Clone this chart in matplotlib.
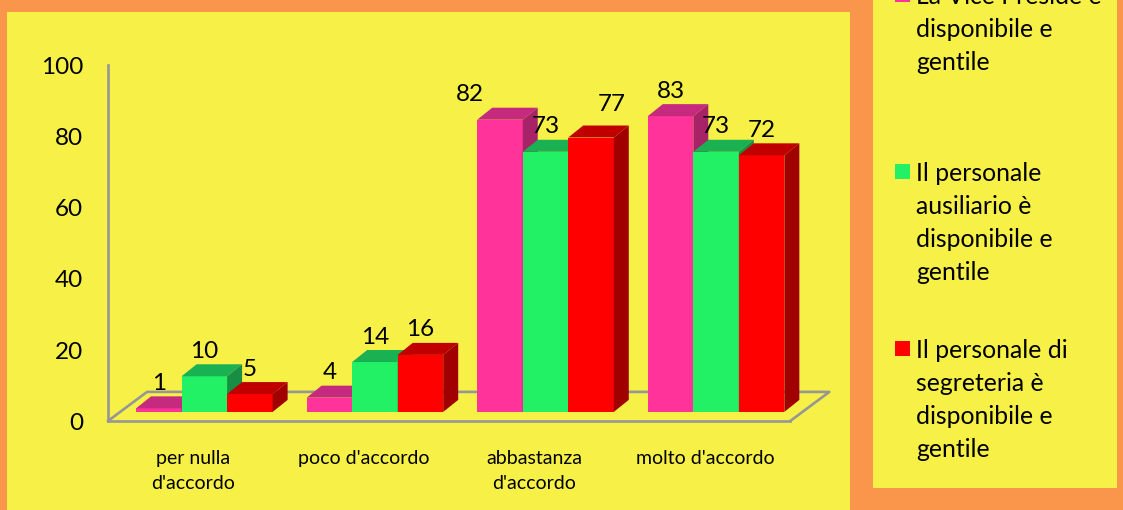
import matplotlib
matplotlib.use("Agg")
import matplotlib.pyplot as plt
from matplotlib.patches import Polygon, Rectangle
from matplotlib.transforms import offset_copy

categories = ["per nulla\nd'accordo", "poco d'accordo", "abbastanza\nd'accordo", "molto d'accordo"]
vice_preside = [1, 4, 82, 83]
ausiliario = [10, 14, 73, 73]
segreteria = [5, 16, 77, 72]
y_ticks = [0, 20, 40, 60, 80, 100]
legend_labels = [
    "La Vice Preside è\ndisponibile e\ngentile",
    "Il personale\nausiliario è\ndisponibile e\ngentile",
    "Il personale di\nsegreteria è\ndisponibile e\ngentile",
]

W, H = 1123, 510
ORANGE = "#FA964B"
YELLOW = "#F7F147"
GREY = "#969696"
# front, top, side
PINK = ("#FF3399", "#C62A7E", "#A82268")
GREEN = ("#22F065", "#1AB152", "#178E43")
RED = ("#FF0000", "#C00000", "#A00000")

plt.rcParams["font.family"] = ["Lato", "DejaVu Sans"]

# the +0.5 stops 5.1*100 being floored to 509
fig = plt.figure(figsize=((W + 0.5) / 100, (H + 0.5) / 100), dpi=100, facecolor=ORANGE)


def px_rect(x0, y0, x1, y1):
    # pixel box measured from the top left, as figure fractions
    return [x0 / W, 1 - y1 / H, (x1 - x0) / W, (y1 - y0) / H]


for box in [(7, 12, 850, 510), (873, 0, 1117, 488)]:
    l, b, w, h = px_rect(*box)
    fig.add_artist(Rectangle((l, b), w, h, transform=fig.transFigure, fc=YELLOW, ec="none", zorder=-1))

ax = fig.add_axes(px_rect(108, 65, 790, 421))
ax.patch.set_visible(False)
ax.set_xlim(-0.5, 3.5)
ax.set_ylim(0, 100)

px_x = 4 / 682
px_y = 100 / 356

# floor and wall
for s in ["top", "right"]:
    ax.spines[s].set_visible(False)
for s in ["left", "bottom"]:
    ax.spines[s].set_color(GREY)
    ax.spines[s].set_linewidth(1.9)
fdx, fdy = 39 * px_x, 29 * px_y
ax.plot([-0.5, -0.5 + fdx, 3.5 + fdx, 3.5], [0, fdy, fdy, 0], color=GREY, lw=1.9, clip_on=False, zorder=1)

ax.set_yticks(y_ticks)
ax.set_xticks(range(len(categories)))
ax.set_xticklabels(categories, fontsize=14, color="black", linespacing=1.6)
ax.tick_params(axis="both", length=0)
ax.tick_params(axis="x", pad=20.5)
ax.tick_params(axis="y", labelsize=17.5, pad=18)

# bars sit a bit inside the floor
bar_tr = offset_copy(ax.transData, fig=fig, x=11, y=9, units="dots")
bar_w = 45.5 * px_x
ddx, ddy = 15 * px_x, 12 * px_y

# two labels are moved away from the bars in the original
label_nudge = {(0, 2): (-30, 0), (2, 2): (21, 8)}

series = [(vice_preside, PINK), (ausiliario, GREEN), (segreteria, RED)]
z = 3
for j, (vals, cols) in enumerate(series):
    for i, v in enumerate(vals):
        x0 = i + (j - 1.5) * bar_w
        x1 = x0 + bar_w
        ax.bar(x0, v, bar_w, align="edge", color=cols[0], transform=bar_tr, zorder=z, clip_on=False)
        ax.add_patch(Polygon([(x0, v), (x1, v), (x1 + ddx, v + ddy), (x0 + ddx, v + ddy)],
                             fc=cols[1], ec="none", transform=bar_tr, zorder=z, clip_on=False))
        ax.add_patch(Polygon([(x1, 0), (x1 + ddx, ddy), (x1 + ddx, v + ddy), (x1, v)],
                             fc=cols[2], ec="none", transform=bar_tr, zorder=z, clip_on=False))
        z += 1

for j, (vals, cols) in enumerate(series):
    for i, v in enumerate(vals):
        nx, ny = label_nudge.get((j, i), (0, 0))
        ax.annotate(str(v), (i + (j - 1) * bar_w, v), xycoords=bar_tr,
                    xytext=(nx, 25.5 + ny), textcoords="offset pixels",
                    ha="center", va="center", fontsize=17.5, color="black", zorder=50)

# legend
legend_colors = [PINK[0], GREEN[0], RED[0]]
legend_tops = [-15, 162, 339]
for label, col, top in zip(legend_labels, legend_colors, legend_tops):
    l, b, w, h = px_rect(895, top + 2, 910, top + 17)
    fig.add_artist(Rectangle((l, b), w, h, transform=fig.transFigure, fc=col, ec="none"))
    fig.text(916 / W, 1 - top / H, label, ha="left", va="top", fontsize=17.8, color="black", linespacing=1.52)

fig.savefig("out.png", dpi=100, facecolor=ORANGE)
